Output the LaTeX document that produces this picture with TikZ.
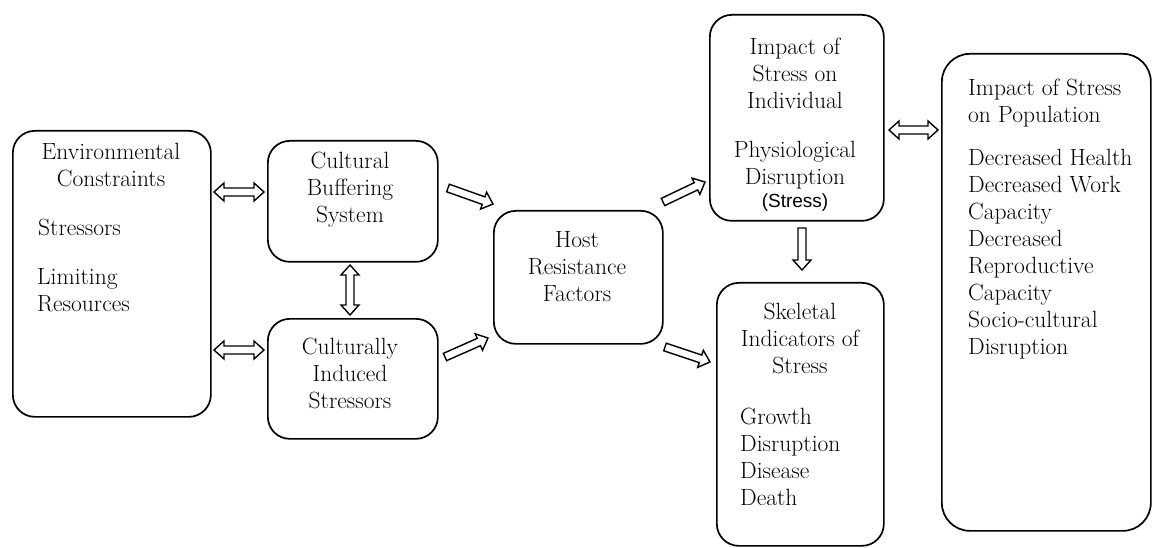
\documentclass[tikz,border=0pt]{standalone}
\usepackage{fontspec}
\newfontfamily\stresssans{Liberation Sans}
\usetikzlibrary{calc}
\tikzset{
  box/.style={draw=black, line width=1.7pt, rounded corners=22pt, anchor=north west, inner sep=0pt},
  txt/.style={inner sep=0pt, font=\rmfamily\fontsize{23.5}{27}\selectfont},
  ctxt/.style={txt, align=center, anchor=north},
  ltxt/.style={txt, align=left, anchor=north west},
  arrowbox/.style={draw=black, line width=1.4pt, fill=white, line join=miter},
}
\newcommand\fatarrow[2]{%
  \coordinate (fbp) at ($(#2)!10pt!(#1)$);
  \draw[arrowbox] ($(#1)!4pt!90:(#2)$) -- ($(fbp)!4pt!90:(#2)$) -- ($(fbp)!9pt!90:(#2)$) -- (#2)
    -- ($(fbp)!9pt!-90:(#2)$) -- ($(fbp)!4pt!-90:(#2)$) -- ($(#1)!4pt!-90:(#2)$) -- cycle;}
\newcommand\dblfatarrow[2]{%
  \coordinate (fap) at ($(#1)!10pt!(#2)$);
  \coordinate (fbp) at ($(#2)!10pt!(#1)$);
  \draw[arrowbox] (#1) -- ($(fap)!9pt!90:(#2)$) -- ($(fap)!4pt!90:(#2)$) -- ($(fbp)!4pt!90:(#2)$)
    -- ($(fbp)!9pt!90:(#2)$) -- (#2) -- ($(fbp)!9pt!-90:(#2)$) -- ($(fbp)!4pt!-90:(#2)$)
    -- ($(fap)!4pt!-90:(#2)$) -- ($(fap)!9pt!-90:(#2)$) -- cycle;}
\begin{document}
\begin{tikzpicture}[x=1pt, y=-1pt]
\useasboundingbox[fill=white] (0,0) rectangle (1152,548);
% boxes
\node[box, minimum width=198pt, minimum height=286pt] (env) at (12,130) {};
\node[box, minimum width=170pt, minimum height=121pt] (cb) at (267,140) {};
\node[box, minimum width=170pt, minimum height=120pt] (ci) at (267,318) {};
\node[box, minimum width=169pt, minimum height=133pt] (host) at (493,210) {};
\node[box, minimum width=174pt, minimum height=206pt] (ind) at (709,14) {};
\node[box, minimum width=167pt, minimum height=263pt] (skel) at (716,282) {};
\node[box, minimum width=209pt, minimum height=477pt, rounded corners=28pt] (pop) at (941,53) {};
% texts
\node[ctxt] (envt) at (111,140) {\strut Environmental\\Constraints};
\node[ltxt] (envs) at (38,216) {\strut Stressors};
\node[ltxt] (envl) at (37,265) {\strut Limiting\\Resources};
\node[ctxt] (cbt) at (350,149) {\strut Cultural\\Buffering\\System};
\node[ctxt] (cit) at (350,335) {\strut Culturally\\Induced\\Stressors};
\node[ctxt] (hostt) at (577,228) {\strut Host\\Resistance\\Factors};
\node[ctxt] (indt) at (795,35) {\strut Impact of\\Stress on\\Individual};
\node[ctxt] (indp) at (795,138) {\strut Physiological\\Disruption};
\node[inner sep=0pt, font=\stresssans\fontsize{19}{23}\selectfont] (inds) at (795,203) {(Stress)};
\node[ctxt] (skelt) at (800,300) {\strut Skeletal\\Indicators of\\Stress};
\node[ltxt] (skell) at (740,405) {\strut Growth\\Disruption\\Disease\\Death};
\node[ltxt] (popt) at (968,76) {\strut Impact of Stress\\on Population};
\node[ltxt] (popl) at (968,146) {\strut Decreased Health\\Decreased Work\\Capacity\\Decreased\\Reproductive\\Capacity\\Socio-cultural\\Disruption};
% arrow end points
\coordinate (a1s) at (214,192); \coordinate (a1e) at (264,192);
\coordinate (a2s) at (214,350); \coordinate (a2e) at (264,350);
\coordinate (a3s) at (350,265); \coordinate (a3e) at (350,315);
\coordinate (a4s) at (448,188); \coordinate (a4e) at (493,204);
\coordinate (a5s) at (445,357); \coordinate (a5e) at (488,338);
\coordinate (a6s) at (663,202); \coordinate (a6e) at (705,182);
\coordinate (a7s) at (665,347); \coordinate (a7e) at (710,362);
\coordinate (a8s) at (802,228); \coordinate (a8e) at (802,270);
\coordinate (a9s) at (889,130); \coordinate (a9e) at (938,130);
% arrows
\dblfatarrow{a1s}{a1e}
\dblfatarrow{a2s}{a2e}
\dblfatarrow{a3s}{a3e}
\fatarrow{a4s}{a4e}
\fatarrow{a5s}{a5e}
\fatarrow{a6s}{a6e}
\fatarrow{a7s}{a7e}
\fatarrow{a8s}{a8e}
\dblfatarrow{a9s}{a9e}
\end{tikzpicture}
\end{document}
